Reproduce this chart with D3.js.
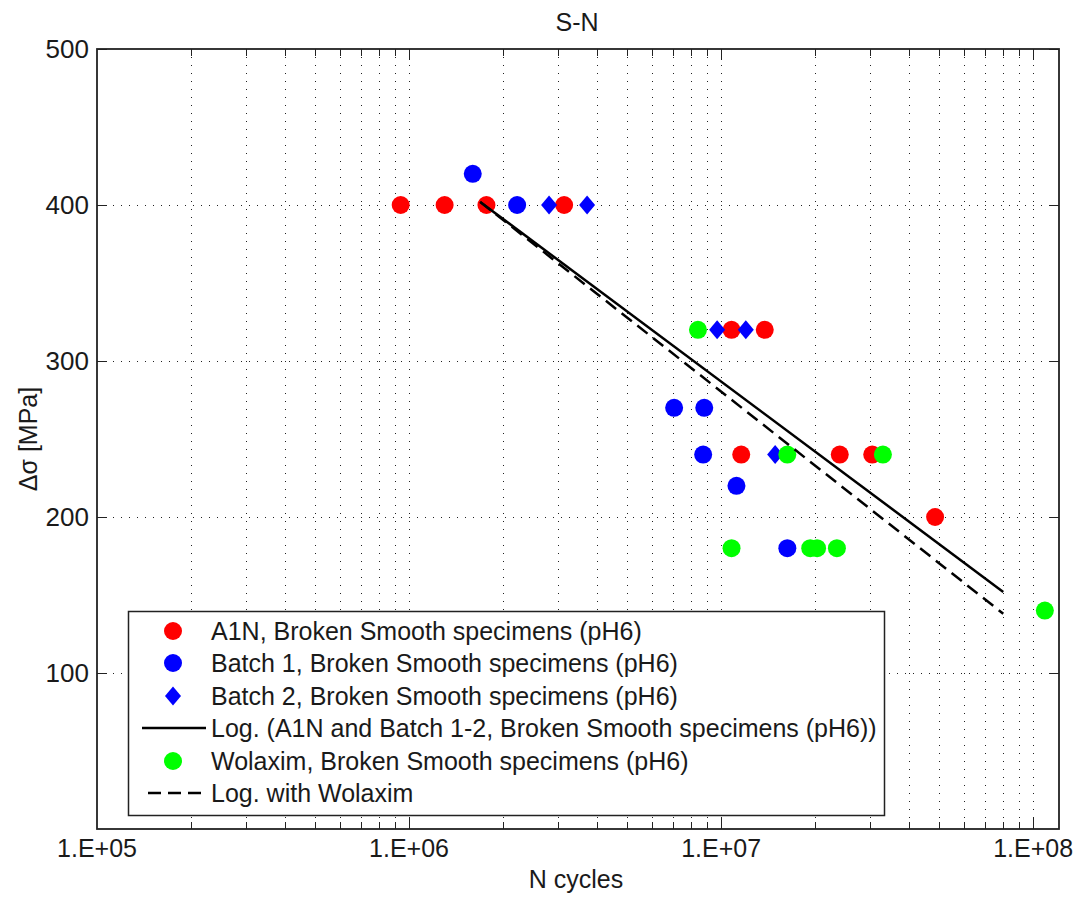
<!DOCTYPE html>
<html>
<head>
<meta charset="utf-8">
<script src="https://cdn.jsdelivr.net/npm/d3@7"></script>
<style>
  body { margin: 0; background: #fff; }
  svg text { font-family: "Liberation Sans", Arial, sans-serif; fill: #1a1a1a; }
</style>
</head>
<body>
<div id="chart"></div>
<script>
// A1N, Broken Smooth specimens (pH6)
const a1nCycles = [9.4e5, 1.30e6, 1.77e6, 3.14e6, 1.08e7, 1.38e7, 1.16e7, 2.40e7, 3.05e7, 4.85e7];
const a1nStress = [400, 400, 400, 400, 320, 320, 240, 240, 240, 200];
// Batch 1
const batch1Cycles = [1.60e6, 2.22e6, 7.07e6, 8.83e6, 8.76e6, 1.12e7, 1.63e7];
const batch1Stress = [420, 400, 270, 270, 240, 220, 180];
// Batch 2
const batch2Cycles = [2.81e6, 3.72e6, 9.71e6, 1.20e7, 1.49e7];
const batch2Stress = [400, 400, 320, 320, 240];
// Wolaxim
const wolCycles = [8.43e6, 1.63e7, 3.30e7, 1.08e7, 1.93e7, 2.03e7, 2.35e7, 1.09e8];
const wolStress = [320, 240, 240, 180, 180, 180, 180, 140];
// trend lines (log fits), end points
const fitCycles = [1.69e6, 8.02e7];
const fitStress = [402, 152];
const fitWolCycles = [1.69e6, 8.02e7];
const fitWolStress = [402, 138];

const xTicks = [1e5, 1e6, 1e7, 1e8];
const xTickLabels = ["1.E+05", "1.E+06", "1.E+07", "1.E+08"];
const yTicks = [100, 200, 300, 400, 500];

const legendLabels = [
    "A1N, Broken Smooth specimens (pH6)",
    "Batch 1, Broken Smooth specimens (pH6)",
    "Batch 2, Broken Smooth specimens (pH6)",
    "Log. (A1N and Batch 1-2, Broken Smooth specimens (pH6))",
    "Wolaxim, Broken Smooth specimens (pH6)",
    "Log. with Wolaxim"
];

const W = 1078, H = 900;
const box = {left: 97, right: 1059, top: 49, bottom: 829};

const svg = d3.select("#chart").append("svg")
    .attr("width", W).attr("height", H);

const x = d3.scaleLog().domain([1e5, 1.21e8]).range([box.left, box.right]);
const y = d3.scaleLinear().domain([0, 500]).range([box.bottom, box.top]);

// minor positions for grid and ticks
const minor = [];
for (let e = 5; e <= 7; e++) {
    for (let k = 1; k <= 9; k++) minor.push(k * Math.pow(10, e));
}
minor.push(1e8);

// grid
const grid = svg.append("g")
    .attr("stroke", "#222").attr("stroke-width", 1).attr("stroke-dasharray", "1,7");
grid.selectAll("line.gx")
    .data(minor.filter(d => d > 1e5)).enter().append("line")
    .attr("x1", d => Math.round(x(d)) + 0.5).attr("x2", d => Math.round(x(d)) + 0.5)
    .attr("y1", box.top).attr("y2", box.bottom);
grid.selectAll("line.gy")
    .data(yTicks.filter(d => d < 500)).enter().append("line")
    .attr("x1", box.left).attr("x2", box.right)
    .attr("y1", d => Math.round(y(d)) + 0.5).attr("y2", d => Math.round(y(d)) + 0.5);

// ticks, inside the box on all four sides
const ticks = svg.append("g").attr("stroke", "#222").attr("stroke-width", 1);
const isMajor = d => xTicks.includes(d);
minor.filter(d => d > 1e5).forEach(d => {
    const px = Math.round(x(d)) + 0.5;
    const len = isMajor(d) ? 11 : 7;
    ticks.append("line").attr("x1", px).attr("x2", px).attr("y1", box.bottom).attr("y2", box.bottom - len);
    ticks.append("line").attr("x1", px).attr("x2", px).attr("y1", box.top).attr("y2", box.top + len);
});
yTicks.forEach(d => {
    const py = Math.round(y(d)) + 0.5;
    ticks.append("line").attr("x1", box.left).attr("x2", box.left + 10).attr("y1", py).attr("y2", py);
    ticks.append("line").attr("x1", box.right).attr("x2", box.right - 10).attr("y1", py).attr("y2", py);
});

// frame
svg.append("rect")
    .attr("x", box.left).attr("y", box.top)
    .attr("width", box.right - box.left).attr("height", box.bottom - box.top)
    .attr("fill", "none").attr("stroke", "#222").attr("stroke-width", 1.8);

// tick labels
svg.selectAll("text.xt")
    .data(xTicks).enter().append("text")
    .attr("x", d => x(d)).attr("y", 857)
    .attr("text-anchor", "middle").attr("font-size", 25)
    .text((d, i) => xTickLabels[i]);
svg.selectAll("text.yt")
    .data(yTicks).enter().append("text")
    .attr("x", 89).attr("y", d => y(d) + 9)
    .attr("text-anchor", "end").attr("font-size", 26)
    .text(d => d);

// titles
svg.append("text").attr("x", 577).attr("y", 31)
    .attr("text-anchor", "middle").attr("font-size", 25).text("S-N");
svg.append("text").attr("x", 576).attr("y", 888)
    .attr("text-anchor", "middle").attr("font-size", 25).text("N cycles");
svg.append("text")
    .attr("transform", "translate(37,439) rotate(-90)")
    .attr("text-anchor", "middle").attr("font-size", 25).text("Δσ [MPa]");

const zip = (a, b) => a.map((v, i) => ({n: v, s: b[i]}));
const diamond = "M0,-9.5L8,0L0,9.5L-8,0Z";

function dots(data, color) {
    svg.append("g").selectAll("circle")
        .data(data).enter().append("circle")
        .attr("cx", d => x(d.n)).attr("cy", d => y(d.s))
        .attr("r", 9).attr("fill", color);
}

const line = d3.line().x(d => x(d.n)).y(d => y(d.s));

dots(zip(a1nCycles, a1nStress), "#ff0000");
dots(zip(batch1Cycles, batch1Stress), "#0000ff");
svg.append("g").selectAll("path")
    .data(zip(batch2Cycles, batch2Stress)).enter().append("path")
    .attr("d", diamond)
    .attr("transform", d => `translate(${x(d.n)},${y(d.s)})`)
    .attr("fill", "#0000ff");
svg.append("path")
    .datum(zip(fitCycles, fitStress))
    .attr("d", line).attr("fill", "none")
    .attr("stroke", "#000").attr("stroke-width", 2.5);
dots(zip(wolCycles, wolStress), "#00ff00");
svg.append("path")
    .datum(zip(fitWolCycles, fitWolStress))
    .attr("d", line).attr("fill", "none")
    .attr("stroke", "#000").attr("stroke-width", 2.5)
    .attr("stroke-dasharray", "13,7");

// legend
const lg = svg.append("g");
lg.append("rect")
    .attr("x", 128.5).attr("y", 611.5).attr("width", 756).attr("height", 204)
    .attr("fill", "#fff").attr("stroke", "#222").attr("stroke-width", 1.5);
const rowY = [631, 663, 696, 728, 761, 793];
const kinds = ["red", "blue", "diamond", "solid", "green", "dashed"];
kinds.forEach((k, i) => {
    const cy = rowY[i];
    if (k === "red" || k === "blue" || k === "green") {
        lg.append("circle").attr("cx", 173).attr("cy", cy).attr("r", 9)
            .attr("fill", k === "red" ? "#ff0000" : k === "blue" ? "#0000ff" : "#00ff00");
    } else if (k === "diamond") {
        lg.append("path").attr("d", diamond)
            .attr("transform", `translate(173,${cy})`).attr("fill", "#0000ff");
    } else {
        lg.append("line").attr("x1", k === "solid" ? 142 : 148).attr("x2", 206)
            .attr("y1", cy).attr("y2", cy)
            .attr("stroke", "#000").attr("stroke-width", 2.5)
            .attr("stroke-dasharray", k === "dashed" ? "13,7" : null);
    }
    lg.append("text").attr("x", 211).attr("y", cy + 9)
        .attr("font-size", 25).text(legendLabels[i]);
});
</script>
</body>
</html>
